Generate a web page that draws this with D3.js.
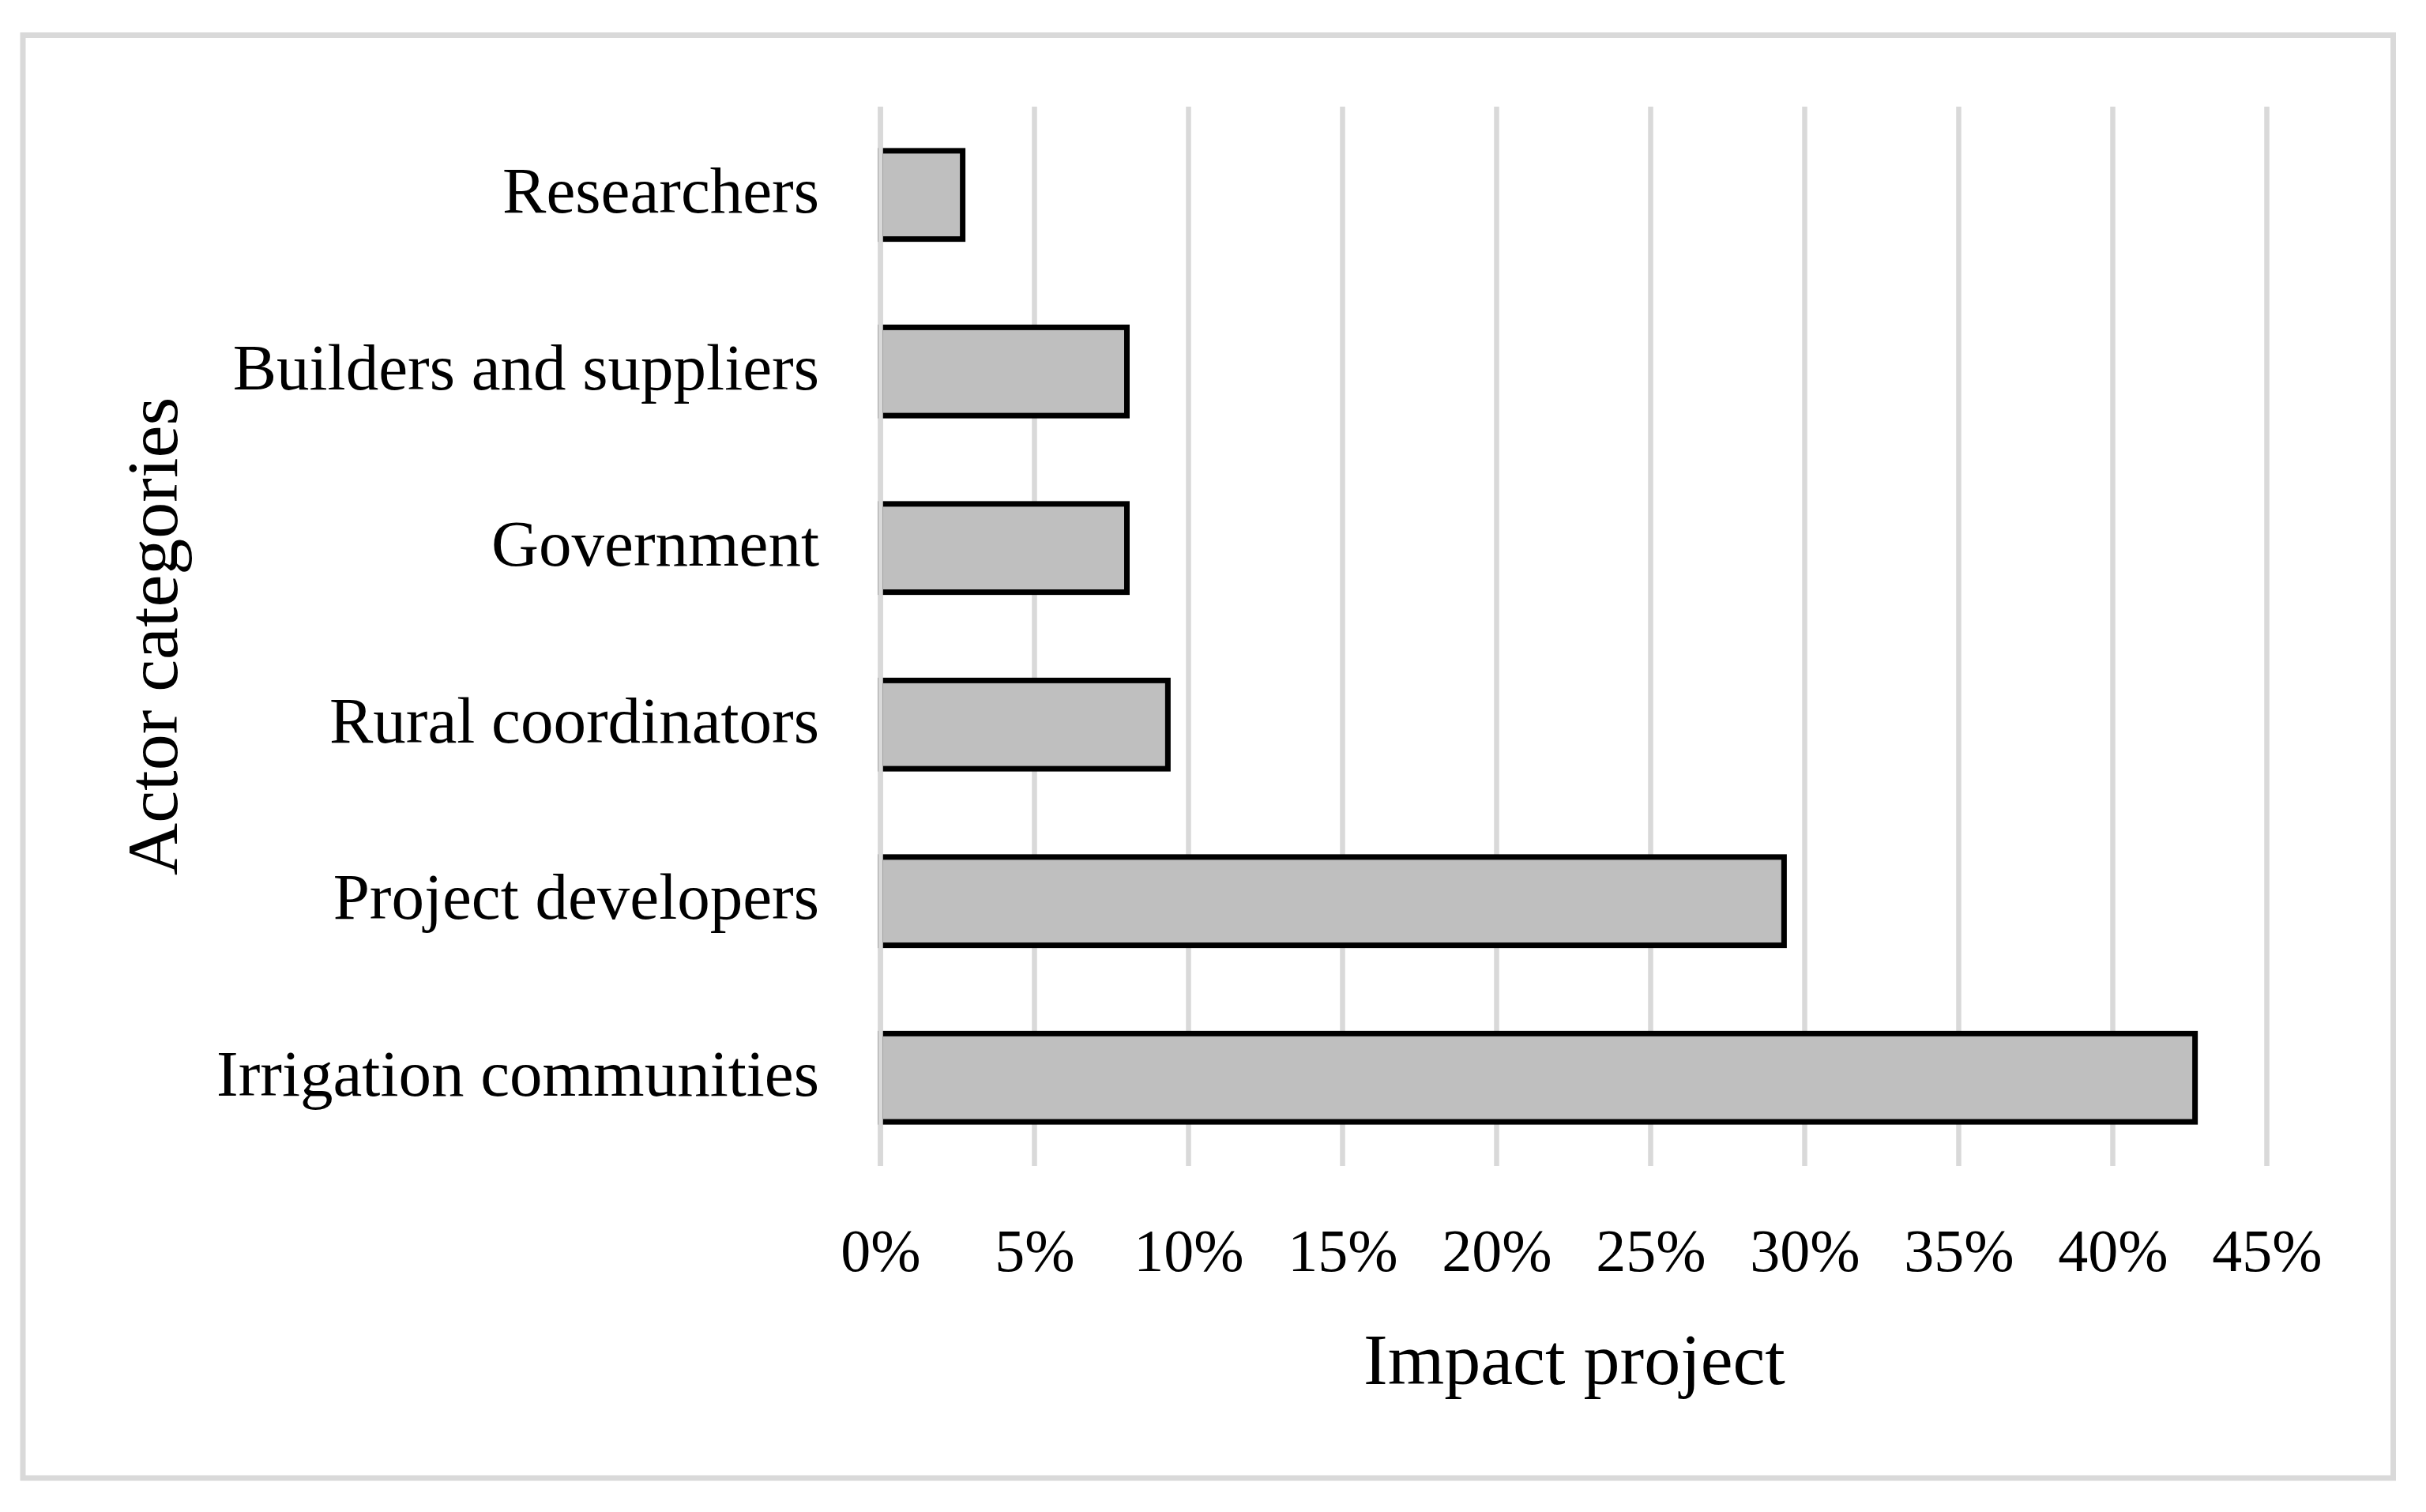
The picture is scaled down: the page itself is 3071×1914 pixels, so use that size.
<!DOCTYPE html>
<html>
<head>
<meta charset="utf-8">
<script src="https://cdn.jsdelivr.net/npm/d3@7"></script>
<style>
  body { margin: 0; background: #fff; }
  text { font-family: "Liberation Serif", "Times New Roman", serif; fill: #000; }
</style>
</head>
<body>
<div id="chart"></div>
<script>
// data (share of actors, n = 75)
var categories = ["Researchers", "Builders and suppliers", "Government", "Rural coordinators", "Project developers", "Irrigation communities"];
var impactValues = [2.67, 8.0, 8.0, 9.33, 29.33, 42.67];
var tickValues = [0, 5, 10, 15, 20, 25, 30, 35, 40, 45];

var width = 3071, height = 1914;
var plotLeft = 1114.5, plotRight = 2869.5;
var plotTop = 135, plotBottom = 1476;

var svg = d3.select("#chart").append("svg")
    .attr("width", width)
    .attr("height", height);

// outer frame
svg.append("rect")
   .attr("x", 29)
   .attr("y", 44.5)
   .attr("width", 3000.5)
   .attr("height", 1826.5)
   .attr("fill", "white")
   .attr("stroke", "#d9d9d9")
   .attr("stroke-width", 7);

var x = d3.scaleLinear().domain([0, 45]).range([plotLeft, plotRight]);
var y = d3.scaleBand().domain(categories)
    .range([plotTop, plotBottom])
    .paddingInner(0.5)
    .paddingOuter(0.25);

// vertical gridlines
svg.append("g")
   .selectAll("line")
   .data(tickValues)
   .enter().append("line")
   .attr("x1", function(d){ return x(d); })
   .attr("x2", function(d){ return x(d); })
   .attr("y1", plotTop)
   .attr("y2", plotBottom)
   .attr("stroke", "#d9d9d9")
   .attr("stroke-width", 6.5);

// bars
svg.append("g")
   .selectAll("rect")
   .data(categories)
   .enter().append("rect")
   .attr("x", x(0))
   .attr("y", function(d){ return y(d); })
   .attr("width", function(d, i){ return x(impactValues[i]) - x(0); })
   .attr("height", y.bandwidth())
   .attr("fill", "#bfbfbf")
   .attr("stroke", "#000")
   .attr("stroke-width", 7);

// category axis line over the bar ends
svg.append("line")
   .attr("x1", x(0)).attr("x2", x(0))
   .attr("y1", plotTop).attr("y2", plotBottom)
   .attr("stroke", "#d9d9d9")
   .attr("stroke-width", 6.5);

// x tick labels
var xAxis = d3.axisBottom(x)
    .tickValues(tickValues)
    .tickFormat(function(d){ return d + "%"; })
    .tickSize(0)
    .tickPadding(0);

var gx = svg.append("g")
   .attr("transform", "translate(0,1609)")
   .call(xAxis);
gx.select(".domain").remove();
gx.selectAll("text")
  .attr("y", 0)
  .attr("dy", 0)
  .attr("font-size", "76px")
  .attr("font-family", "Liberation Serif, serif")
  .attr("fill", "#000");

// category labels
var yAxis = d3.axisLeft(y).tickSize(0).tickPadding(0);
var gy = svg.append("g")
   .attr("transform", "translate(1037,0)")
   .call(yAxis);
gy.select(".domain").remove();
gy.selectAll("text")
  .attr("x", 0)
  .attr("dy", "0.27em")
  .attr("font-size", "83px")
  .attr("font-family", "Liberation Serif, serif")
  .attr("fill", "#000");

// axis titles
svg.append("text")
   .attr("x", 1993)
   .attr("y", 1752)
   .attr("text-anchor", "middle")
   .attr("font-size", "92px")
   .text("Impact project");

svg.append("text")
   .attr("transform", "translate(224," + ((plotTop + plotBottom) / 2) + ") rotate(-90)")
   .attr("text-anchor", "middle")
   .attr("font-size", "92px")
   .text("Actor categories");
</script>
</body>
</html>
